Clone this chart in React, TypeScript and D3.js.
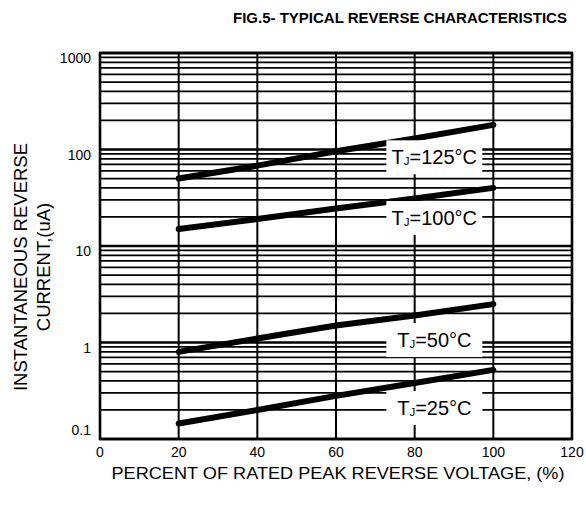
import React from "react";
import * as d3 from "d3";

const xTicks = [0, 20, 40, 60, 80, 100, 120];
const yTickLabels = ["0.1", "1", "10", "100", "1000"];
const yTicks = [0.1, 1, 10, 100, 1000];
const voltagePct = [20, 40, 60, 80, 100];
const tj25 = [0.145, 0.2, 0.28, 0.38, 0.52];
const tj50 = [0.8, 1.1, 1.5, 1.9, 2.5];
const tj100 = [15, 19, 24.5, 31, 40];
const tj125 = [50, 68, 96, 130, 180];
const seriesNames = ["125°C", "100°C", "50°C", "25°C"];
const labelX = [85, 85, 85, 85];
const labelY = [83, 19.5, 1.06, 0.21];

const W = 586;
const H = 510;
const M = { left: 100, right: 14, top: 53, bottom: 71 };
const FONT = "'Liberation Sans', Arial, Helvetica, sans-serif";

export default function App() {
  const x = d3.scaleLinear().domain([0, 120]).range([M.left, W - M.right]);
  const y = d3.scaleLog().domain([0.1, 1000]).range([H - M.bottom, M.top]);

  const minor: number[] = [];
  for (let e = -1; e < 3; e++) {
    for (let k = 1; k < 10; k++) minor.push(k * Math.pow(10, e));
  }
  minor.push(1000);

  const series = [tj125, tj100, tj50, tj25];
  const line = d3
    .line<number>()
    .x((_, i) => x(voltagePct[i]))
    .y((d) => y(d));

  const x0 = x(0);
  const x1 = x(120);
  const y0 = y(0.1);
  const y1 = y(1000);

  return (
    <svg
      width={W}
      height={H}
      style={{ position: "absolute", left: 0, top: 0, display: "block", background: "#fff" }}
      fontFamily={FONT}
    >
      <rect x={0} y={0} width={W} height={H} fill="#fff" />
      <text x={400} y={23} textAnchor="middle" fontSize={15} fontWeight="bold" fill="#000">
        FIG.5- TYPICAL REVERSE CHARACTERISTICS
      </text>

      {/* horizontal grid */}
      {minor.map((v, i) => {
        const decade = Math.abs(Math.log10(v) - Math.round(Math.log10(v))) < 1e-9;
        return (
          <line
            key={"h" + i}
            x1={x0}
            x2={x1}
            y1={y(v)}
            y2={y(v)}
            stroke="#000"
            strokeWidth={decade ? 2.4 : 1.7}
          />
        );
      })}
      {/* vertical grid */}
      {xTicks.slice(1, -1).map((t) => (
        <line key={"v" + t} x1={x(t)} x2={x(t)} y1={y1} y2={y0} stroke="#000" strokeWidth={2} />
      ))}

      {/* frame */}
      <rect x={x0} y={y1} width={x1 - x0} height={y0 - y1} fill="none" stroke="#000" strokeWidth={2.6} />

      {/* series lines */}
      {series.map((s, i) => (
        <path
          key={"s" + i}
          d={line(s) || ""}
          fill="none"
          stroke="#000"
          strokeWidth={6}
          strokeLinecap="round"
        />
      ))}

      {/* labels */}
      {seriesNames.map((n, i) => {
        const cx = x(labelX[i]);
        const cy = y(labelY[i]);
        return (
          <g key={"l" + i}>
            <rect x={cx - 48} y={cy - 17} width={96} height={34} fill="#fff" />
            <text x={cx} y={cy + 7} textAnchor="middle" fontSize={20} fill="#000">
              T
              <tspan fontSize={11.5} dy={1}>
                J
              </tspan>
              <tspan dy={-1}>={n}</tspan>
            </text>
          </g>
        );
      })}

      {/* y tick labels */}
      {yTicks.map((t, i) => (
        <text
          key={"yt" + i}
          x={91}
          y={y(t) + (i === 0 ? -4 : 10)}
          textAnchor="end"
          fontSize={14}
          fill="#000"
        >
          {yTickLabels[i]}
        </text>
      ))}

      {/* x tick labels */}
      {xTicks.map((t) => (
        <text key={"xt" + t} x={x(t)} y={457} textAnchor="middle" fontSize={14} fill="#000">
          {t}
        </text>
      ))}

      {/* axis titles */}
      <text
        x={338}
        y={479}
        textAnchor="middle"
        fontSize={17}
        fill="#000"
        textLength={453}
        lengthAdjust="spacingAndGlyphs"
      >
        PERCENT OF RATED PEAK REVERSE VOLTAGE, (%)
      </text>
      <g transform="translate(27,267) rotate(-90)">
        <text x={0} y={0} textAnchor="middle" fontSize={18.5} fill="#000">
          INSTANTANEOUS REVERSE
        </text>
        <text x={0} y={23} textAnchor="middle" fontSize={18.5} fill="#000">
          CURRENT,(uA)
        </text>
      </g>
    </svg>
  );
}
